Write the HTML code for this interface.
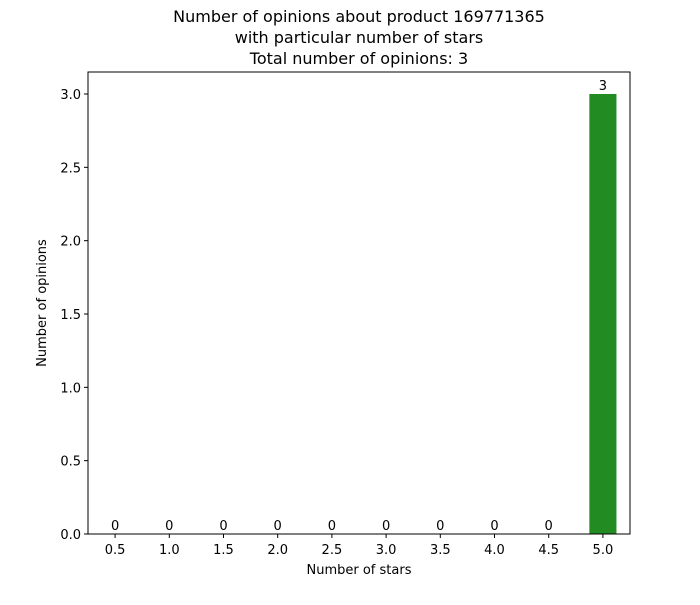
<!DOCTYPE html>
<html><head><meta charset="utf-8">
<style>
body{margin:0;background:#fff;font-family:"Liberation Sans","DejaVu Sans",sans-serif;}
svg text{font-family:"DejaVu Sans","Liberation Sans",sans-serif;}
</style></head>
<body>
<svg id="chart" width="700" height="600">
<g id="title" font-size="16" text-anchor="middle" fill="#000">
<text x="359" y="22">Number of opinions about product 169771365</text>
<text x="359" y="43">with particular number of stars</text>
<text x="359" y="64">Total number of opinions: 3</text>
</g>
<g id="plot"></g>
<text x="359" y="574" font-size="13" text-anchor="middle">Number of stars</text>
<text transform="translate(46,303) rotate(-90)" font-size="13" text-anchor="middle">Number of opinions</text>
</svg>
<script>
const categories=["0.5","1.0","1.5","2.0","2.5","3.0","3.5","4.0","4.5","5.0"];
const counts=[0,0,0,0,0,0,0,0,0,3];
const yTicks=[0,0.5,1.0,1.5,2.0,2.5,3.0];
const yTickLabels=["0.0","0.5","1.0","1.5","2.0","2.5","3.0"];
const L=88,R=630,T=72,B=534;
const yMax=Math.max(...counts)*1.05||1;
const x=i=>L+(R-L)*(i+0.5)/categories.length;
const y=v=>B-(B-T)*v/yMax;
const bw=(R-L)/categories.length*0.5;
const ns="http://www.w3.org/2000/svg";
const g=document.getElementById('plot');
function mk(t,a,txt){const e=document.createElementNS(ns,t);for(const k in a)e.setAttribute(k,a[k]);if(txt!=null)e.textContent=txt;g.appendChild(e);return e;}
counts.forEach((v,i)=>{
 const r=mk('rect',{x:x(i)-bw/2,y:y(v),width:bw,height:B-y(v),fill:'#228b22'});
 
 
 const t=mk('text',{x:x(i),y:y(v)-4,'font-size':13,'text-anchor':'middle'},String(v));
 
 
 const tk=mk('line',{x1:x(i),x2:x(i),y1:B,y2:B+4,stroke:'#000'});
 
 
 const tl=mk('text',{x:x(i),y:B+20,'font-size':13,'text-anchor':'middle'},categories[i]);
 
 
});
yTicks.forEach((v,i)=>{
 const tk=mk('line',{x1:L-4,x2:L,y1:y(v),y2:y(v),stroke:'#000'});
 
 
 const tl=mk('text',{x:L-7,y:y(v)+5,'font-size':13,'text-anchor':'end'},yTickLabels[i]);
 
 
});
const fr=mk('rect',{x:L,y:T,width:R-L,height:B-T,fill:'none',stroke:'#000','stroke-width':1});


</script>
</body></html>
